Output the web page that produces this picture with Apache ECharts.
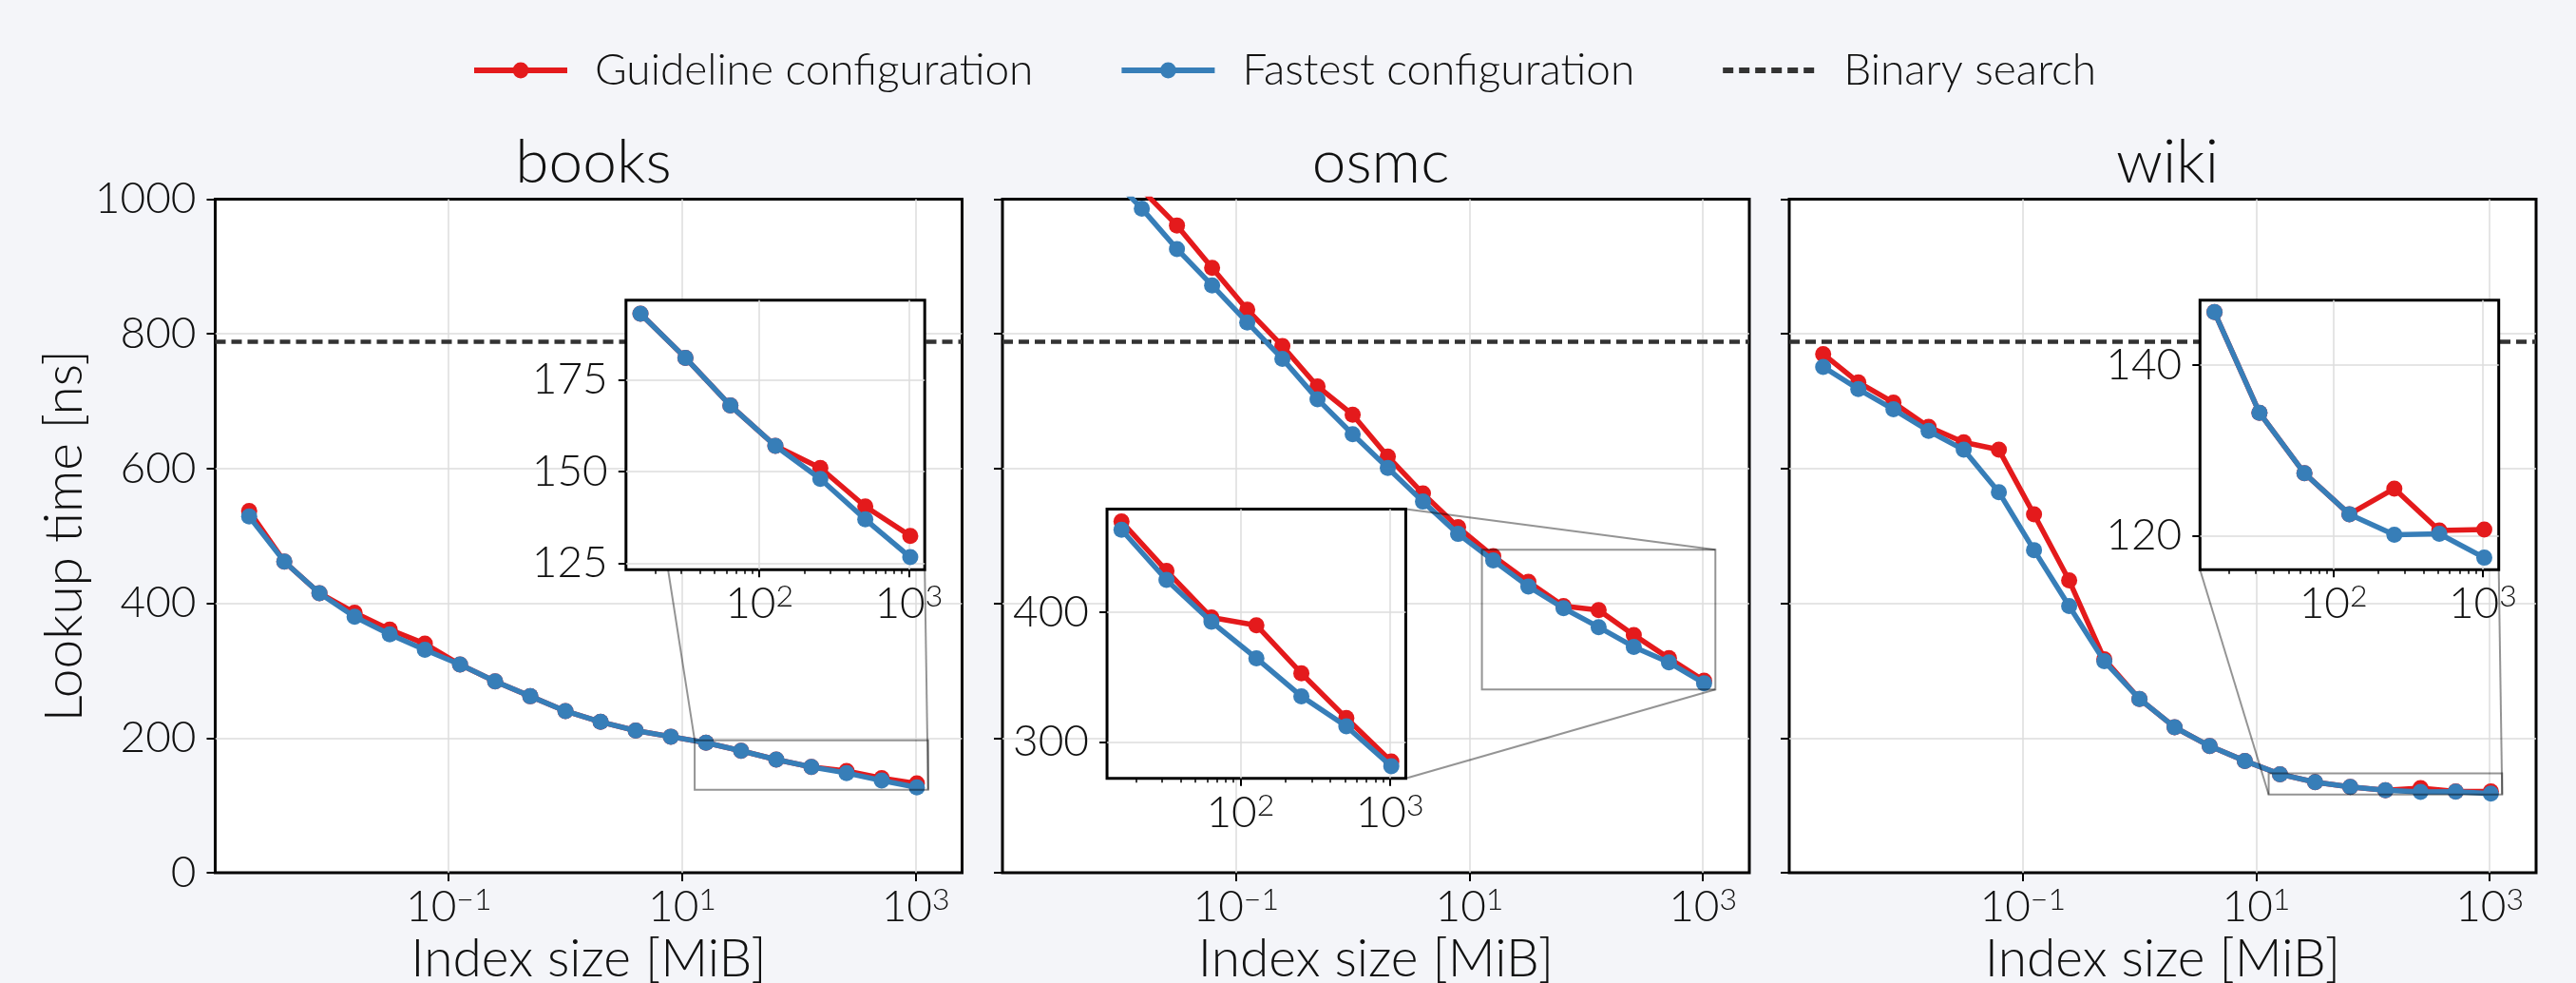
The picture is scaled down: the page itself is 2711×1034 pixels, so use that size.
<!DOCTYPE html>
<html>
<head>
<meta charset="utf-8">
<script src="https://cdn.jsdelivr.net/npm/echarts@6/dist/echarts.min.js"></script>
<style>
  html, body { margin: 0; padding: 0; background: #f4f5f9; }
  #main { width: 2711px; height: 1034px; }
</style>
</head>
<body>
<div id="main"></div>
<script>
// ---- data ----
const datasets = ['books', 'osmc', 'wiki'];
const sizeMiB = [0.001953125, 0.00390625, 0.0078125, 0.015625, 0.03125, 0.0625, 0.125, 0.25, 0.5, 1,
                 2, 4, 8, 16, 32, 64, 128, 256, 512, 1024];

const booksGuideline = [537, 462, 415, 386, 361, 340, 309, 284, 262, 240, 224, 211, 202, 193, 181, 168, 157, 151, 140.5, 132.5];
const booksFastest   = [529, 462, 415, 380, 354, 331, 309, 284, 262, 240, 224, 211, 202, 193, 181, 168, 157, 148, 137, 126.7];
const osmcGuideline  = [1190, 1130, 1070, 1014, 961, 898, 836, 782, 722, 680, 618, 563, 513, 470, 432, 396, 390, 353, 318.5, 285];
const osmcFastest    = [1160, 1100, 1040, 986, 926, 872, 817, 763, 703, 651, 601, 551, 503, 463.6, 425, 392.7, 364.6, 335.3, 312.2, 281.4];
const wikiGuideline  = [770, 728, 698, 662, 639, 628, 532, 434, 317, 258, 216, 188, 166, 146.2, 134.4, 127.3, 122.5, 125.5, 120.6, 120.7];
const wikiFastest    = [751, 718, 688, 656, 628, 565, 479, 396, 314, 258, 216, 188, 166, 146.2, 134.4, 127.3, 122.5, 120.1, 120.2, 117.4];
const binarySearch = [788, 788, 788];

const guideline = [booksGuideline, osmcGuideline, wikiGuideline];
const fastest = [booksFastest, osmcFastest, wikiFastest];

// axis ticks
const xTicks = [0.1, 10, 1000];
const xRange = [0.001, 2500];
const yRange = [0, 1000];
const insetFirst = 13;                 // inset shows the last 7 sizes
const insetXRange = [12.8, 1280];
const insetXTicks = [100, 1000];
const insetMinorTicks = [20, 30, 40, 50, 60, 70, 80, 90, 200, 300, 400, 500, 600, 700, 800, 900];
const insetYRange = [[123.3, 196.7], [272, 479.6], [116, 147.6]];
const insetYTicks = [[125, 150, 175], [300, 400], [120, 140]];
const insetLinks = [['UL', 'LR'], ['UR', 'LR'], ['LL', 'LR']];

// ---- layout / style ----
const RED = '#e41a1c', BLUE = '#377eb8', DASH = '#333';
const FONT = 'Lato', TXT = '#111';
const TICK_FS = 46, SUP_FS = 32, NAME_FS = 55, TITLE_FS = 64;
const LW = 5.5, SYM = 17;
const panelLeft = [226.5, 1055, 1883];
const panelTop = 209.5, panelW = 786, panelH = 708.5;
const insetFrac = [[0.55, 0.45], [0.14, 0.14], [0.55, 0.45]];
const insetSize = 0.4;
const gridLine = { color: '#dddddd', width: 1.5 };
const tickLine = { color: '#000', width: 2 };

const insetRect = insetFrac.map(function (f, i) {
  return {
    left: panelLeft[i] + f[0] * panelW,
    top: panelTop + (1 - f[1] - insetSize) * panelH,
    width: insetSize * panelW,
    height: insetSize * panelH
  };
});

function powLabel(fs, ss) {
  return {
    formatter: function (v) {
      const e = Math.round(Math.log10(v));
      return '{b|10}{s|' + (e < 0 ? '\u2212' + (-e) : e) + '}';
    },
    rich: {
      b: { fontSize: fs, lineHeight: fs, fontFamily: FONT, fontWeight: 300, color: TXT },
      s: { fontSize: ss, lineHeight: ss * 0.7, verticalAlign: 'top', fontFamily: FONT, fontWeight: 300, color: TXT }
    }
  };
}
const plainLabel = { fontSize: TICK_FS, fontFamily: FONT, fontWeight: 300, color: TXT, formatter: v => String(v) };

const pairs = (ys, from) => sizeMiB.slice(from || 0).map((x, k) => [x, ys[(from || 0) + k]]);

const grid = [], xAxis = [], yAxis = [], series = [], title = [];

datasets.forEach(function (name, i) {
  grid.push({
    left: panelLeft[i], top: panelTop, width: panelW, height: panelH,
    show: true, backgroundColor: '#fff', borderColor: '#000', borderWidth: 3,
    outerBoundsMode: 'none', containLabel: false
  });
  title.push({
    text: name, left: panelLeft[i] + panelW / 2, top: 134, textAlign: 'center',
    textStyle: { fontSize: TITLE_FS, fontFamily: FONT, fontWeight: 300, color: TXT }
  });
  xAxis.push({
    type: 'log', logBase: 10, gridIndex: i, min: xRange[0], max: xRange[1],
    axisLine: { show: false },
    axisTick: { show: true, customValues: xTicks, length: 9, lineStyle: tickLine },
    axisLabel: Object.assign({ customValues: xTicks, margin: 13 }, powLabel(TICK_FS, SUP_FS)),
    splitLine: { show: true, lineStyle: gridLine },
    name: 'Index size [MiB]', nameLocation: 'middle', nameGap: 60,
    nameTextStyle: { fontSize: NAME_FS, fontFamily: FONT, fontWeight: 300, color: TXT }
  });
  yAxis.push({
    type: 'value', gridIndex: i, min: yRange[0], max: yRange[1], interval: 200,
    axisLine: { show: false },
    axisTick: { show: true, length: 9, lineStyle: tickLine },
    axisLabel: Object.assign({ show: i === 0, margin: 20 }, plainLabel),
    splitLine: { show: true, showMinLine: false, showMaxLine: false, lineStyle: gridLine },
    name: i === 0 ? 'Lookup time [ns]' : '', nameLocation: 'middle', nameGap: 130, nameRotate: 90,
    nameTextStyle: { fontSize: NAME_FS, fontFamily: FONT, fontWeight: 300, color: TXT }
  });
  series.push({
    type: 'line', name: 'Guideline configuration', xAxisIndex: i, yAxisIndex: i,
    data: pairs(guideline[i]), symbol: 'circle', symbolSize: SYM, z: 2,
    lineStyle: { color: RED, width: LW }, itemStyle: { color: RED }
  }, {
    type: 'line', name: 'Fastest configuration', xAxisIndex: i, yAxisIndex: i,
    data: pairs(fastest[i]), symbol: 'circle', symbolSize: SYM, z: 3,
    lineStyle: { color: BLUE, width: LW }, itemStyle: { color: BLUE }
  }, {
    type: 'line', name: 'Binary search', xAxisIndex: i, yAxisIndex: i, data: [],
    symbol: 'none', z: 1,
    lineStyle: { color: DASH, width: 4.5, type: [11, 6] }, itemStyle: { color: DASH },
    markLine: {
      silent: true, symbol: 'none', z: 1, label: { show: false },
      lineStyle: { color: DASH, width: 4.5, type: [11, 6] },
      data: [{ yAxis: binarySearch[i] }]
    }
  });
});

// insets
datasets.forEach(function (name, i) {
  const r = insetRect[i];
  grid.push({
    left: r.left, top: r.top, width: r.width, height: r.height,
    show: true, backgroundColor: '#fff', borderColor: '#000', borderWidth: 3, z: 10,
    outerBoundsMode: 'none', containLabel: false
  });
  xAxis.push({
    type: 'log', logBase: 10, gridIndex: 3 + i, min: insetXRange[0], max: insetXRange[1],
    position: 'bottom', z: 11,
    axisLine: { show: false },
    axisTick: { show: true, customValues: insetXTicks, length: 8, lineStyle: tickLine },
    axisLabel: Object.assign({ customValues: insetXTicks, margin: 13 }, powLabel(TICK_FS, SUP_FS)),
    splitLine: { show: true, lineStyle: gridLine }
  });
  yAxis.push({
    type: 'value', gridIndex: 3 + i, min: insetYRange[i][0], max: insetYRange[i][1], z: 11,
    axisLine: { show: false },
    axisTick: { show: true, customValues: insetYTicks[i], length: 8, lineStyle: tickLine },
    axisLabel: Object.assign({ customValues: insetYTicks[i], margin: 19 }, plainLabel),
    splitLine: { show: true, lineStyle: gridLine }
  });
  series.push({
    type: 'line', name: 'Guideline configuration', xAxisIndex: 3 + i, yAxisIndex: 3 + i,
    data: pairs(guideline[i], insetFirst), symbol: 'circle', symbolSize: SYM, z: 12,
    lineStyle: { color: RED, width: LW }, itemStyle: { color: RED }
  }, {
    type: 'line', name: 'Fastest configuration', xAxisIndex: 3 + i, yAxisIndex: 3 + i,
    data: pairs(fastest[i], insetFirst), symbol: 'circle', symbolSize: SYM, z: 13,
    lineStyle: { color: BLUE, width: LW }, itemStyle: { color: BLUE }
  });
});

// minor ticks of the inset x axes
datasets.forEach(function (name, i) {
  xAxis.push({
    type: 'log', logBase: 10, gridIndex: 3 + i, min: insetXRange[0], max: insetXRange[1],
    position: 'bottom', z: 11,
    axisLine: { show: false },
    axisTick: { show: true, customValues: insetMinorTicks, length: 4.5, lineStyle: { color: '#000', width: 1.5 } },
    axisLabel: { show: false },
    splitLine: { show: false }
  });
});

const chart = echarts.init(document.getElementById('main'), null, { renderer: 'canvas' });
chart.setOption({
  backgroundColor: '#f4f5f9',
  animation: false,
  title: title,
  legend: {
    left: 491, top: 46, itemWidth: 98, itemHeight: 21, itemGap: 90,
    data: ['Guideline configuration', 'Fastest configuration',
           { name: 'Binary search', itemStyle: { opacity: 0 } }],
    lineStyle: { width: 6 },
    textStyle: { fontSize: TICK_FS, fontFamily: FONT, fontWeight: 300, color: TXT, padding: [0, 0, 0, 24] }
  },
  grid: grid, xAxis: xAxis, yAxis: yAxis, series: series
});

// zoom rectangle + connector lines
const graphics = [];
const LINK = 'rgba(0,0,0,0.42)';
datasets.forEach(function (name, i) {
  const a = chart.convertToPixel({ xAxisIndex: i, yAxisIndex: i }, [insetXRange[0], insetYRange[i][1]]);
  const b = chart.convertToPixel({ xAxisIndex: i, yAxisIndex: i }, [insetXRange[1], insetYRange[i][0]]);
  graphics.push({
    type: 'rect', z: 4, silent: true,
    shape: { x: a[0], y: a[1], width: b[0] - a[0], height: b[1] - a[1] },
    style: { fill: 'none', stroke: LINK, lineWidth: 2 }
  });
  const r = insetRect[i];
  const inset = { UL: [r.left, r.top], UR: [r.left + r.width, r.top], LL: [r.left, r.top + r.height], LR: [r.left + r.width, r.top + r.height] };
  const zoom = { UL: [a[0], a[1]], UR: [b[0], a[1]], LL: [a[0], b[1]], LR: [b[0], b[1]] };
  insetLinks[i].forEach(function (c) {
    graphics.push({
      type: 'line', z: 4, silent: true,
      shape: { x1: inset[c][0], y1: inset[c][1], x2: zoom[c][0], y2: zoom[c][1] },
      style: { stroke: LINK, lineWidth: 2 }
    });
  });
});
chart.setOption({ graphic: graphics });
</script>
</body>
</html>
